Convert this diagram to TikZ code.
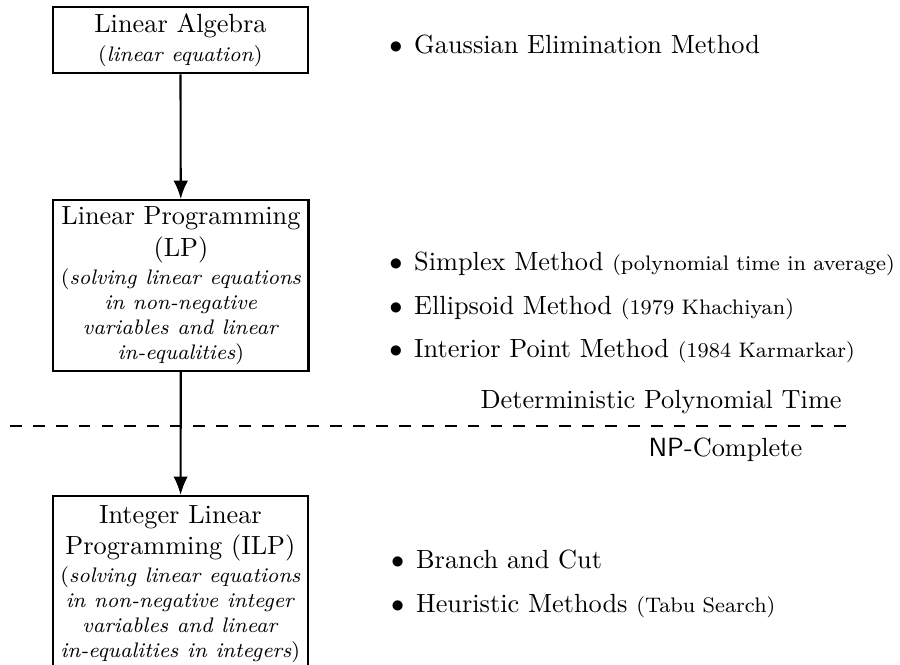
\documentclass[tikz,border=0pt]{standalone}
\usetikzlibrary{arrows.meta}
\begin{document}
\begin{tikzpicture}[
  box/.style={draw, line width=0.8pt, text width=92pt, inner sep=2.5pt, align=center, anchor=north},
  bigbox/.style={box, minimum height=65pt},
  conn/.style={line width=0.8pt, -{Latex[length=7pt,width=5.5pt]}},
  sep/.style={line width=0.8pt, dash pattern=on 4.5pt off 4.2pt},
  item/.style={anchor=base west, inner sep=0pt},
  lbl/.style={inner sep=0pt}
]
\useasboundingbox (0,0) rectangle (342.2pt,-252.5pt);
\newcommand{\bul}{\makebox[9.5pt][l]{$\bullet$}}
\node[box, minimum height=24pt] (la) at (68.6pt,-2.3pt) {Linear Algebra\par\vspace{1.5pt}\footnotesize(\textit{linear equation})\par};
\node[bigbox] (lp) at (68.8pt,-75.7pt) {Linear Programming\\ (LP)\par\vspace{1pt}\footnotesize(\textit{solving linear equations}\\ \textit{in non-negative}\\ \textit{variables and linear}\\ \textit{in-equalities})\par};
\node[bigbox, minimum height=67pt] (ilp) at (68.6pt,-188.2pt) {Integer Linear\\ Programming (ILP)\par\vspace{1pt}\footnotesize(\textit{solving linear equations}\\ \textit{in non-negative integer}\\ \textit{variables and linear}\\ \textit{in-equalities in integers})\par};
\draw[conn] (la) -- (lp);
\draw[conn] (lp) -- (ilp);
\coordinate (dl) at (3.8pt,-162pt);
\coordinate (dr) at (325.5pt,-162pt);
\draw[sep] (dl) -- (dr);
\node[item] (g) at (147.8pt,-20.5pt) {\bul Gaussian Elimination Method};
\node[item] (s) at (147.8pt,-102.7pt) {\bul Simplex Method {\footnotesize(polynomial time in average)}};
\node[item] (e) at (147.8pt,-119.4pt) {\bul Ellipsoid Method {\footnotesize(1979 Khachiyan)}};
\node[item] (ip) at (147.8pt,-136.1pt) {\bul Interior Point Method {\footnotesize(1984 Karmarkar)}};
\node[lbl, anchor=base east] (dpt) at (320.2pt,-155.5pt) {Deterministic Polynomial Time};
\node[lbl, anchor=base west] (npc) at (246.4pt,-173.4pt) {\textsf{NP}-Complete};
\node[item] (bc) at (148.5pt,-216.3pt) {\bul Branch and Cut};
\node[item] (hm) at (148.5pt,-232.7pt) {\bul Heuristic Methods {\footnotesize(Tabu Search)}};
\end{tikzpicture}
\end{document}
